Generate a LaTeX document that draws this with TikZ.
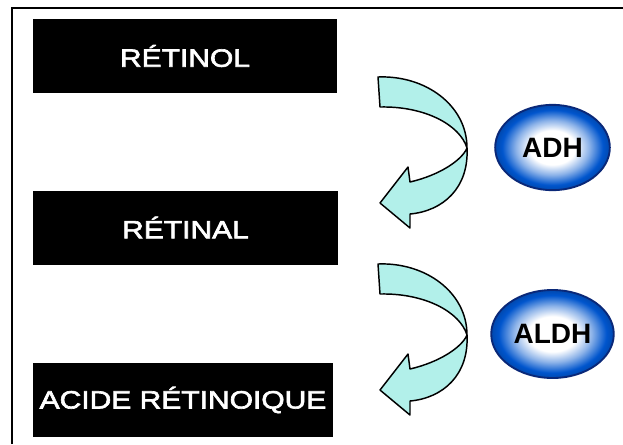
\documentclass[tikz,border=0pt]{standalone}
\usepackage{fontspec}
\setmainfont{Liberation Sans}
\newfontfamily\boxfont[FakeStretch=1.2,FakeBold=2.5]{Liberation Sans}
\usetikzlibrary{shapes.geometric}
\definecolor{ribbonfill}{RGB}{178,240,234}
\definecolor{enzymeblue}{RGB}{0,85,205}
\definecolor{enzymerim}{RGB}{10,40,120}
\pgfdeclareradialshading{enzymeglow}{\pgfpoint{0bp}{0bp}}{%
  color(0bp)=(white); color(10bp)=(white); color(16bp)=(white!55!enzymeblue);
  color(22bp)=(enzymeblue); color(25bp)=(enzymeblue!85!black); color(50bp)=(enzymeblue!85!black)}

\begin{document}
\begin{tikzpicture}[x=0.75pt,y=-0.75pt,line width=1.1pt,
  substance/.style={fill=black,text=white,inner sep=0pt,minimum height=55.5pt,
    font=\boxfont\fontsize{18.75}{20}\selectfont},
  enzyme/.style={ellipse,draw=enzymerim,line width=1.4pt,shading=enzymeglow,
    minimum width=86pt,minimum height=64pt,
    font=\bfseries\fontsize{21}{23}\selectfont},
  ribbon/.style={fill=ribbonfill,draw=black,line join=round}]
  \useasboundingbox (0,0) rectangle (623,444);
  % cadre (haut et gauche seulement)
  \draw[line width=1.5pt] (12,444) -- (12,8) -- (623,8);
  % les trois molecules
  \node[substance,minimum width=228pt] (retinol) at (185,56) {RÉTINOL};
  \node[substance,minimum width=229pt] (retinal) at (185.5,227.5) {RÉTINAL};
  \node[substance,minimum width=225pt] (acide) at (183,400) {ACIDE RÉTINOIQUE};
  % enzymes
  \node[enzyme] (adh) at (552.5,147.5) {ADH};
  \node[enzyme,minimum height=66pt] (aldh) at (552.5,334) {ALDH};
  % fleches en ruban
  \foreach \dy in {0,187}{
    \begin{scope}[shift={(0,\dy)}]
      \draw[ribbon] (378,77) .. controls (425,75) and (467,105) .. (467,148)
        .. controls (460,125) and (425,106) .. (380,107) -- cycle;
      \draw[ribbon] (467,148) .. controls (469,188) and (443,211) .. (410,214)
        -- (410,228) -- (380,203) -- (408,167) -- (410,182)
        .. controls (440,175) and (462,160) .. (467,148) -- cycle;
    \end{scope}
  }
\end{tikzpicture}
\end{document}
